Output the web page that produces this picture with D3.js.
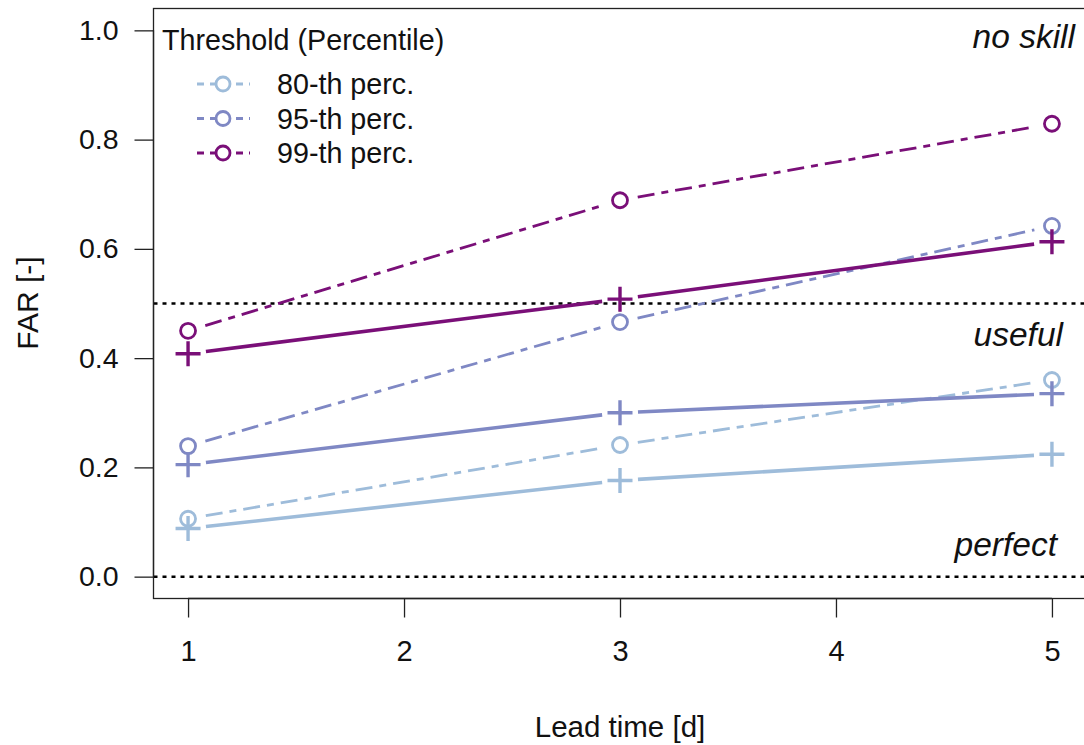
<!DOCTYPE html>
<html>
<head>
<meta charset="utf-8">
<script src="https://cdn.jsdelivr.net/npm/d3@7"></script>
<style>
  body { margin: 0; background: #fff; }
  svg { display: block; }
  text { font-family: "Liberation Sans", Arial, sans-serif; fill: #111; }
</style>
</head>
<body>
<div id="chart"></div>
<script>
// data
var leadTimes = [1, 3, 5];
var xTicks = [1, 2, 3, 4, 5];
var yTicks = [0, 0.2, 0.4, 0.6, 0.8, 1.0];
var thresholds = ["80-th perc.", "95-th perc.", "99-th perc."];
var colors = ["#9ebcda", "#7f88c4", "#7a0f78"];
// dashed lines with circles
var circleValues = [
    [0.106, 0.241, 0.360],
    [0.239, 0.466, 0.642],
    [0.450, 0.689, 0.829]
];
// solid lines with plus signs
var plusValues = [
    [0.088, 0.176, 0.224],
    [0.205, 0.300, 0.335],
    [0.408, 0.508, 0.613]
];
var refLines = [0.5, 0.0];
var zones = ["no skill", "useful", "perfect"];
var zoneY = [1.0, 0.455, 0.07];
var zoneRight = [1075, 1063, 1057];

var width = 1084, height = 745;
var x = d3.scaleLinear().domain([0.84, 5.16]).range([153.5, 1086.5]);
var y = d3.scaleLinear().domain([-0.04, 1.04]).range([598.5, 8.5]);

var svg = d3.select('#chart').append('svg')
    .attr('width', width).attr('height', height);

// reference lines
refLines.forEach(function (v) {
    svg.append('line')
        .attr('x1', x(0.84)).attr('x2', x(5.16))
        .attr('y1', y(v)).attr('y2', y(v))
        .attr('stroke', '#000').attr('stroke-width', 2.5)
        .attr('stroke-dasharray', '4,5');
});

// segments with gaps round the points (like type="b")
function drawSeries(values, color, dash, lw) {
    for (var i = 0; i < values.length - 1; i++) {
        var x1 = x(leadTimes[i]), y1 = y(values[i]);
        var x2 = x(leadTimes[i + 1]), y2 = y(values[i + 1]);
        var len = Math.sqrt((x2 - x1) * (x2 - x1) + (y2 - y1) * (y2 - y1));
        var gap = 18;
        var ux = (x2 - x1) / len, uy = (y2 - y1) / len;
        svg.append('line')
            .attr('x1', x1 + ux * gap).attr('y1', y1 + uy * gap)
            .attr('x2', x2 - ux * gap).attr('y2', y2 - uy * gap)
            .attr('stroke', color).attr('stroke-width', lw)
            .attr('stroke-dasharray', dash);
    }
}

thresholds.forEach(function (t, k) {
    drawSeries(circleValues[k], colors[k], '17,7,7,7', 2.8);
    drawSeries(plusValues[k], colors[k], null, 3.6);
    circleValues[k].forEach(function (v, i) {
        svg.append('circle')
            .attr('cx', x(leadTimes[i])).attr('cy', y(v)).attr('r', 7.5)
            .attr('fill', 'none').attr('stroke', colors[k]).attr('stroke-width', 2.8);
    });
    plusValues[k].forEach(function (v, i) {
        var cx = x(leadTimes[i]), cy = y(v);
        svg.append('path')
            .attr('d', 'M' + (cx - 12.5) + ',' + cy + 'H' + (cx + 12.5) + 'M' + cx + ',' + (cy - 12.5) + 'V' + (cy + 12.5))
            .attr('stroke', colors[k]).attr('stroke-width', 3.4);
    });
});

// box
svg.append('rect')
    .attr('x', x(0.84)).attr('y', y(1.04))
    .attr('width', x(5.16) - x(0.84)).attr('height', y(-0.04) - y(1.04))
    .attr('fill', 'none').attr('stroke', '#222').attr('stroke-width', 1.3);

// axes
var xAxis = d3.axisBottom(x).tickValues(xTicks).tickFormat(d3.format('d'))
    .tickSize(19).tickPadding(23);
var gx = svg.append('g').attr('transform', 'translate(0,' + y(-0.04) + ')').call(xAxis);
gx.select('.domain').attr('d', 'M' + x(1) + ',0H' + x(5));
gx.selectAll('line').attr('stroke', '#222').attr('stroke-width', 1.3);
gx.selectAll('text').attr('font-size', 29).attr('font-family', '"Liberation Sans", Arial, sans-serif').attr('fill', '#111');
gx.select('.domain').attr('stroke', '#222').attr('stroke-width', 1.3);

var yAxis = d3.axisLeft(y).tickValues(yTicks).tickFormat(d3.format('.1f'))
    .tickSize(19).tickPadding(16);
var gy = svg.append('g').attr('transform', 'translate(' + x(0.84) + ',0)').call(yAxis);
gy.select('.domain').attr('d', 'M0,' + y(0) + 'V' + y(1));
gy.selectAll('line').attr('stroke', '#222').attr('stroke-width', 1.3);
gy.selectAll('text').attr('font-size', 28.5).attr('font-family', '"Liberation Sans", Arial, sans-serif').attr('fill', '#111');
gy.select('.domain').attr('stroke', '#222').attr('stroke-width', 1.3);

// axis titles
svg.append('text').text('Lead time [d]')
    .attr('x', x(3)).attr('y', 737).attr('text-anchor', 'middle').attr('font-size', 29.5);
svg.append('text').text('FAR [-]')
    .attr('transform', 'translate(38,303) rotate(-90)')
    .attr('text-anchor', 'middle').attr('font-size', 30);

// zone labels
zones.forEach(function (z, i) {
    svg.append('text').text(z)
        .attr('x', zoneRight[i])
        .attr('y', y(zoneY[i]) + 18)
        .attr('text-anchor', 'end')
        .attr('font-family', 'Lato, "Open Sans", sans-serif')
        .attr('font-style', 'italic')
        .attr('font-size', 33.5);
});

// legend
var legend = svg.append('g');
legend.append('text').text('Threshold (Percentile)')
    .attr('x', 162).attr('y', 50).attr('font-size', 28.7);
thresholds.forEach(function (t, k) {
    var ly = 84 + k * 34.5;
    legend.append('line')
        .attr('x1', 197).attr('x2', 250).attr('y1', ly).attr('y2', ly)
        .attr('stroke', colors[k]).attr('stroke-width', 2.8)
        .attr('stroke-dasharray', '7,6');
    legend.append('circle')
        .attr('cx', 223).attr('cy', ly).attr('r', 7)
        .attr('fill', '#fff').attr('stroke', colors[k]).attr('stroke-width', 2.8);
    legend.append('text').text(t)
        .attr('x', 277).attr('y', ly + 10).attr('font-size', 28.7);
});
</script>
</body>
</html>
